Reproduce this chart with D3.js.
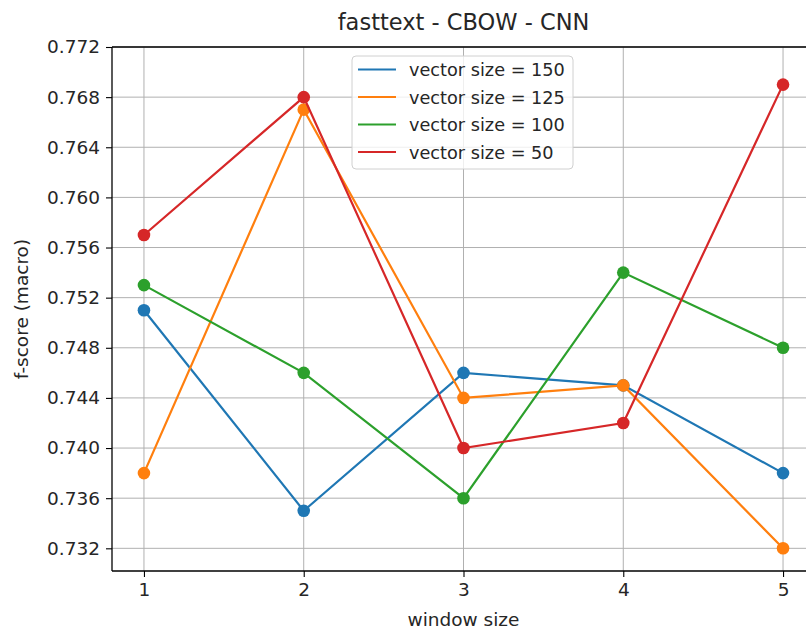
<!DOCTYPE html>
<html>
<head>
<meta charset="utf-8">
<script src="https://cdn.jsdelivr.net/npm/d3@7"></script>
<style>
  html, body { margin: 0; padding: 0; background: #fff; }
  svg { display: block; font-family: "DejaVu Sans", sans-serif; }
</style>
</head>
<body>
<svg id="chart" width="806" height="630"></svg>
<script>
// window sizes on the x axis
const windowSizes = [1, 2, 3, 4, 5];

// macro f-score per vector size
const vec150 = [0.751, 0.735, 0.746, 0.745, 0.738];
const vec125 = [0.738, 0.767, 0.744, 0.745, 0.732];
const vec100 = [0.753, 0.746, 0.736, 0.754, 0.748];
const vec50  = [0.757, 0.768, 0.740, 0.742, 0.769];

const seriesNames = ["vector size = 150", "vector size = 125", "vector size = 100", "vector size = 50"];
const seriesColors = ["#1f77b4", "#ff7f0e", "#2ca02c", "#d62728"];
const yTicks = [0.732, 0.736, 0.740, 0.744, 0.748, 0.752, 0.756, 0.760, 0.764, 0.768, 0.772];

const series = [vec150, vec125, vec100, vec50].map((vals, i) => ({
  name: seriesNames[i],
  color: seriesColors[i],
  points: windowSizes.map((w, j) => ({ x: w, y: vals[j] }))
}));

const svg = d3.select("#chart");
const plotL = 112, plotR = 815, plotT = 47, plotB = 571;

const x = d3.scaleLinear().domain([0.8, 5.2]).range([plotL, plotR]);
const y = d3.scaleLinear().domain([0.73019, 0.772]).range([plotB, plotT]);

const fontSize = 18.5;

// grid
const grid = svg.append("g");
grid.selectAll("line.gx").data(windowSizes).join("line")
  .attr("x1", d => x(d)).attr("x2", d => x(d))
  .attr("y1", plotT).attr("y2", plotB)
  .attr("stroke", "#b0b0b0").attr("stroke-width", 1);
grid.selectAll("line.gy").data(yTicks).join("line")
  .attr("x1", plotL).attr("x2", plotR)
  .attr("y1", d => y(d)).attr("y2", d => y(d))
  .attr("stroke", "#b0b0b0").attr("stroke-width", 1);

// axes
const xAxis = d3.axisBottom(x).tickValues(windowSizes).tickFormat(d3.format("d"))
  .tickSize(6).tickPadding(6);
const yAxis = d3.axisLeft(y).tickValues(yTicks).tickFormat(d3.format(".3f"))
  .tickSize(6).tickPadding(6);

const gx = svg.append("g").attr("transform", `translate(0,${plotB})`).call(xAxis);
const gy = svg.append("g").attr("transform", `translate(${plotL},0)`).call(yAxis);
[gx, gy].forEach(g => {
  g.select(".domain").remove();
  g.selectAll(".tick line").attr("stroke", "#000").attr("stroke-width", 1.1);
  g.selectAll(".tick text").attr("fill", "#262626")
    .style("font-size", fontSize + "px").style("font-family", "DejaVu Sans");
});

// spines
const spine = (x1, y1, x2, y2) => svg.append("line")
  .attr("x1", x1).attr("y1", y1).attr("x2", x2).attr("y2", y2)
  .attr("stroke", "#000").attr("stroke-width", 1.3);
spine(plotL, plotT, plotL, plotB);
spine(plotL, plotB, plotR, plotB);
spine(plotL, plotT, plotR, plotT);
spine(plotR, plotT, plotR, plotB);

// series lines and markers
const line = d3.line().x(d => x(d.x)).y(d => y(d.y));
series.forEach(s => {
  svg.append("path").datum(s.points)
    .attr("d", line).attr("fill", "none")
    .attr("stroke", s.color).attr("stroke-width", 2.2);
  svg.append("g").selectAll("circle").data(s.points).join("circle")
    .attr("cx", d => x(d.x)).attr("cy", d => y(d.y)).attr("r", 6.3)
    .attr("fill", s.color);
});

// title and axis labels
svg.append("text").attr("x", (plotL + plotR) / 2).attr("y", 30)
  .attr("text-anchor", "middle").attr("fill", "#262626")
  .style("font-size", "22.5px").text("fasttext - CBOW - CNN");
svg.append("text").attr("x", (plotL + plotR) / 2).attr("y", 626)
  .attr("text-anchor", "middle").attr("fill", "#262626")
  .style("font-size", fontSize + "px").text("window size");
svg.append("text")
  .attr("transform", `translate(28,${(plotT + plotB) / 2}) rotate(-90)`)
  .attr("text-anchor", "middle").attr("fill", "#262626")
  .style("font-size", fontSize + "px").text("f-score (macro)");

// legend
const lg = svg.append("g").attr("transform", "translate(352,56)");
lg.append("rect").attr("width", 221).attr("height", 113).attr("rx", 4)
  .attr("fill", "#fff").attr("fill-opacity", 0.8)
  .attr("stroke", "#d0d0d0").attr("stroke-width", 1);
series.forEach((s, i) => {
  const ry = 13.5 + i * 27.5;
  lg.append("line").attr("x1", 6).attr("x2", 44).attr("y1", ry).attr("y2", ry)
    .attr("stroke", s.color).attr("stroke-width", 2.2);
  lg.append("text").attr("x", 57).attr("y", ry + 6.5).attr("fill", "#262626")
    .style("font-size", "17.7px").text(s.name);
});
</script>
</body>
</html>
